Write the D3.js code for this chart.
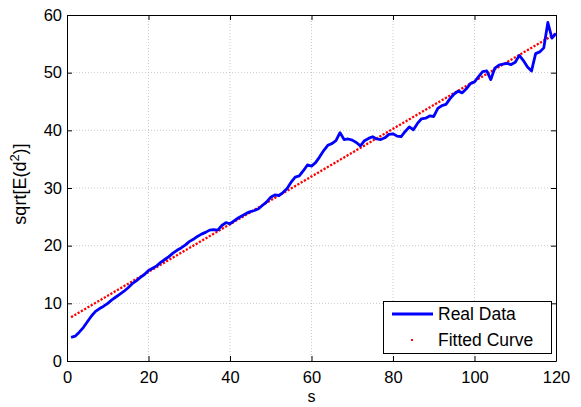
<!DOCTYPE html>
<html><head><meta charset="utf-8">
<script src="https://cdn.jsdelivr.net/npm/d3@7"></script>
<style>body{margin:0;background:#fff}svg{display:block}text{font-family:"Liberation Sans",Arial,sans-serif;fill:#000}</style>
</head><body><svg id="c" width="581" height="407"></svg>
<script>
const sValues = d3.range(1,121);
const realData = [4.1,4.3,5.0,5.8,6.8,7.8,8.6,9.1,9.5,10.0,
10.6,11.1,11.6,12.1,12.7,13.4,13.9,14.5,15.0,15.7,
16.1,16.5,17.1,17.6,18.1,18.7,19.2,19.6,20.1,20.7,
21.1,21.6,22.0,22.3,22.7,22.8,22.7,23.5,24.0,23.8,
24.3,24.8,25.2,25.6,25.9,26.1,26.4,27.0,27.6,28.4,
28.8,28.7,29.2,29.9,31.0,31.9,32.1,33.0,34.0,33.8,
34.4,35.4,36.5,37.4,37.7,38.2,39.6,38.4,38.5,38.3,
37.9,37.3,38.2,38.6,38.9,38.5,38.4,38.7,39.3,39.4,
39.0,38.9,39.8,40.6,40.1,41.2,42.0,42.1,42.5,42.4,
43.8,44.3,44.5,45.5,46.3,46.8,46.5,47.2,48.1,48.4,
49.3,50.2,50.3,48.8,50.8,51.3,51.5,51.6,51.4,51.8,
53.0,52.1,51.0,50.3,53.3,53.6,54.3,58.7,56.0,56.8];
const fitS = [1,120];
const fitValues = [7.6,56.8];
const xTicks = [0,20,40,60,80,100,120];
const yTicks = [0,10,20,30,40,50,60];
const legendLabels = ["Real Data","Fitted Curve"];

const svg = d3.select("#c");
const L=67,R=556,T=15,B=361;
const x = d3.scaleLinear().domain([0,120]).range([L,R]);
const y = d3.scaleLinear().domain([0,60]).range([B,T]);

// grid
const g = svg.append("g");
g.selectAll(".gx").data(xTicks.slice(1,-1)).enter().append("line")
 .attr("x1",d=>x(d)).attr("x2",d=>x(d)).attr("y1",T).attr("y2",B)
 .attr("stroke","#bdbdbd").attr("stroke-width",0.8).attr("stroke-dasharray","1,2");
g.selectAll(".gy").data(yTicks.slice(1,-1)).enter().append("line")
 .attr("y1",d=>y(d)).attr("y2",d=>y(d)).attr("x1",L).attr("x2",R)
 .attr("stroke","#bdbdbd").attr("stroke-width",0.8).attr("stroke-dasharray","1,2");

// axes
const ax = d3.axisBottom(x).tickValues(xTicks).tickSizeInner(-5).tickSizeOuter(0).tickPadding(10);
const ay = d3.axisLeft(y).tickValues(yTicks).tickSizeInner(-5).tickSizeOuter(0).tickPadding(5);
const axT = d3.axisTop(x).tickValues(xTicks).tickSizeInner(-5).tickSizeOuter(0).tickFormat("");
const ayR = d3.axisRight(y).tickValues(yTicks).tickSizeInner(-5).tickSizeOuter(0).tickFormat("");
function style(s){s.selectAll("path").attr("stroke","#000");s.selectAll("line").attr("stroke","#000");s.selectAll("text").style("font-size","16.5px").attr("fill","#000");}
svg.append("g").attr("transform",`translate(0,${B})`).call(ax).call(style);
svg.append("g").attr("transform",`translate(${L},0)`).call(ay).call(style);
svg.append("g").attr("transform",`translate(0,${T})`).call(axT).call(style);
svg.append("g").attr("transform",`translate(${R},0)`).call(ayR).call(style);

// fitted
svg.append("path").datum(fitS.map((s,i)=>[s,fitValues[i]]))
 .attr("d",d3.line().x(d=>x(d[0])).y(d=>y(d[1])))
 .attr("fill","none").attr("stroke","#ff0000").attr("stroke-width",2.3).attr("stroke-dasharray","2.2,1.6");
// real
svg.append("path").datum(sValues.map((s,i)=>[s,realData[i]]))
 .attr("d",d3.line().x(d=>x(d[0])).y(d=>y(d[1])))
 .attr("fill","none").attr("stroke","#0000ff").attr("stroke-width",2.8).attr("stroke-linejoin","round");

// labels
svg.append("text").attr("x",(L+R)/2).attr("y",402).attr("text-anchor","middle").style("font-size","16px").text("s");
const yl = svg.append("text").attr("transform",`translate(26,${(T+B)/2-4}) rotate(-90)`).attr("text-anchor","middle").style("font-size","18px");
yl.append("tspan").text("sqrt[E(d");
yl.append("tspan").attr("dy",-7).style("font-size","13px").text("2");
yl.append("tspan").attr("dy",7).text(")]");

// legend
const lg = svg.append("g");
lg.append("rect").attr("x",383.5).attr("y",301.5).attr("width",168).attr("height",52).attr("fill","#fff").attr("stroke","#000").attr("stroke-width",1);
lg.append("line").attr("x1",392).attr("x2",433).attr("y1",314).attr("y2",314).attr("stroke","#0000ff").attr("stroke-width",2.8);
lg.append("rect").attr("x",411).attr("y",339).attr("width",2).attr("height",2).attr("fill","#ff0000");
lg.selectAll("text.l").data(legendLabels).enter().append("text")
 .attr("x",438).attr("y",(d,i)=>320+i*26).style("font-size","17.5px").text(d=>d);
</script></body></html>
